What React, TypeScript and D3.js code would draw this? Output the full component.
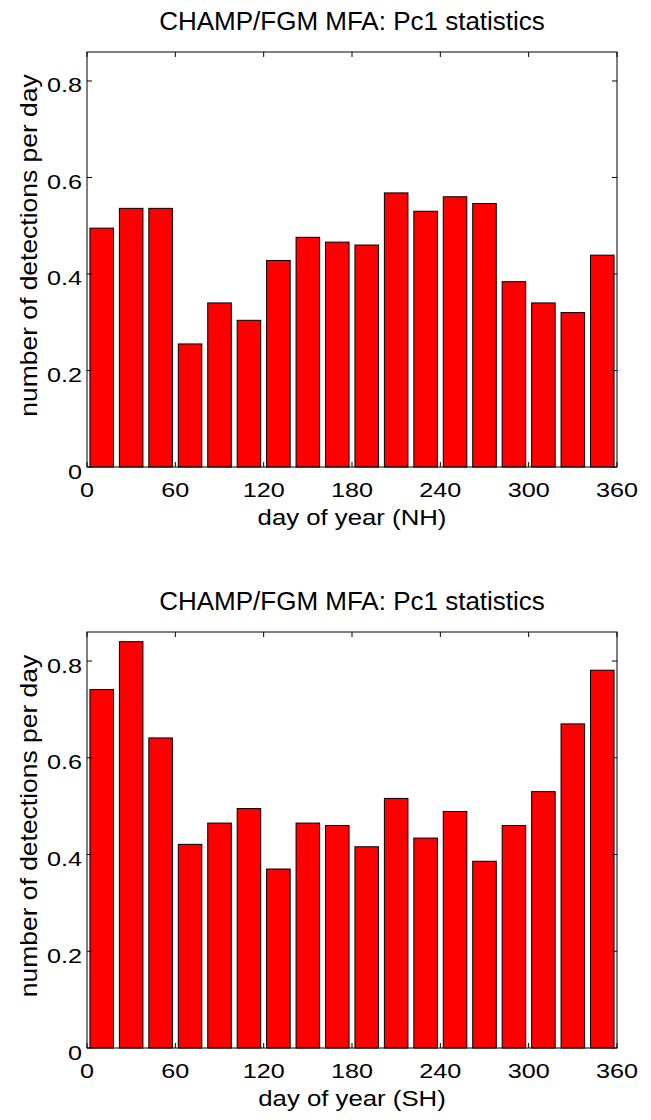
import React from "react";
import * as d3 from "d3";

const binCenters = [10, 30, 50, 70, 90, 110, 130, 150, 170, 190, 210, 230, 250, 270, 290, 310, 330, 350];
const nhValues = [0.495, 0.536, 0.536, 0.255, 0.340, 0.304, 0.428, 0.476, 0.466, 0.460, 0.568, 0.530, 0.560, 0.546, 0.384, 0.340, 0.320, 0.439];
const shValues = [0.741, 0.840, 0.641, 0.421, 0.465, 0.495, 0.370, 0.465, 0.460, 0.416, 0.516, 0.434, 0.489, 0.386, 0.460, 0.530, 0.670, 0.781];
const xTicks = [0, 60, 120, 180, 240, 300, 360];
const yTicks = [0, 0.2, 0.4, 0.6, 0.8];
const titleText = "CHAMP/FGM MFA: Pc1 statistics";
const yLabelText = "number of detections per day";
const xLabels = ["day of year (NH)", "day of year (SH)"];

const FONT = "'Liberation Sans', Arial, Helvetica, sans-serif";
const LEFT = 87;
const RIGHT = 617;
const BIN = 20;
const BAR_FRAC = 0.8;

function Panel({ top, bottom, values, xLabel }: { top: number; bottom: number; values: number[]; xLabel: string }) {
  const x = d3.scaleLinear().domain([0, 360]).range([LEFT, RIGHT]);
  const y = d3.scaleLinear().domain([0, 0.86]).range([bottom, top]);
  const bw = x(BIN * BAR_FRAC) - x(0);
  const tickLen = 5;
  const tickSX = 1.2;
  return (
    <g>
      <text
        transform={`translate(${(LEFT + RIGHT) / 2},${top - 22}) scale(1.04,1)`}
        textAnchor="middle"
        fontFamily={FONT}
        fontSize={25}
        fill="#000"
      >
        {titleText}
      </text>
      {binCenters.map((c, i) => (
        <rect
          key={i}
          x={x(c) - bw / 2}
          y={y(values[i])}
          width={bw}
          height={y(0) - y(values[i])}
          fill="#ff0000"
          stroke="#000"
          strokeWidth={1}
        />
      ))}
      <rect x={LEFT} y={top} width={RIGHT - LEFT} height={bottom - top} fill="none" stroke="#000" strokeWidth={1} />
      {xTicks.map((t) => (
        <g key={"x" + t}>
          <line x1={x(t)} x2={x(t)} y1={bottom} y2={bottom - tickLen} stroke="#000" />
          <line x1={x(t)} x2={x(t)} y1={top} y2={top + tickLen} stroke="#000" />
          <text
            transform={`translate(${x(t)},${bottom + 30}) scale(${tickSX},1)`}
            textAnchor="middle"
            fontFamily={FONT}
            fontSize={21}
            fill="#000"
          >
            {t}
          </text>
        </g>
      ))}
      {yTicks.map((t) => (
        <g key={"y" + t}>
          <line x1={LEFT} x2={LEFT + tickLen} y1={y(t)} y2={y(t)} stroke="#000" />
          <line x1={RIGHT} x2={RIGHT - tickLen} y1={y(t)} y2={y(t)} stroke="#000" />
          <text
            transform={`translate(${LEFT - 5},${y(t) + 11.5}) scale(${tickSX},1)`}
            textAnchor="end"
            fontFamily={FONT}
            fontSize={21}
            fill="#000"
          >
            {t === 0 ? "0" : String(t)}
          </text>
        </g>
      ))}
      <text
        transform={`translate(${(LEFT + RIGHT) / 2},${bottom + 58}) scale(1.12,1)`}
        textAnchor="middle"
        fontFamily={FONT}
        fontSize={23}
        fill="#000"
      >
        {xLabel}
      </text>
      <text
        transform={`translate(37,${(top + bottom) / 2 - 14}) rotate(-90) scale(1.15,1)`}
        textAnchor="middle"
        fontFamily={FONT}
        fontSize={23}
        fill="#000"
      >
        {yLabelText}
      </text>
    </g>
  );
}

export default function App() {
  return (
    <svg
      width={651}
      height={1120}
      style={{ position: "absolute", left: 0, top: 0, background: "#fff" }}
    >
      <rect x={0} y={0} width={651} height={1120} fill="#fff" />
      <Panel top={52} bottom={467} values={nhValues} xLabel={xLabels[0]} />
      <Panel top={632} bottom={1048} values={shValues} xLabel={xLabels[1]} />
    </svg>
  );
}
